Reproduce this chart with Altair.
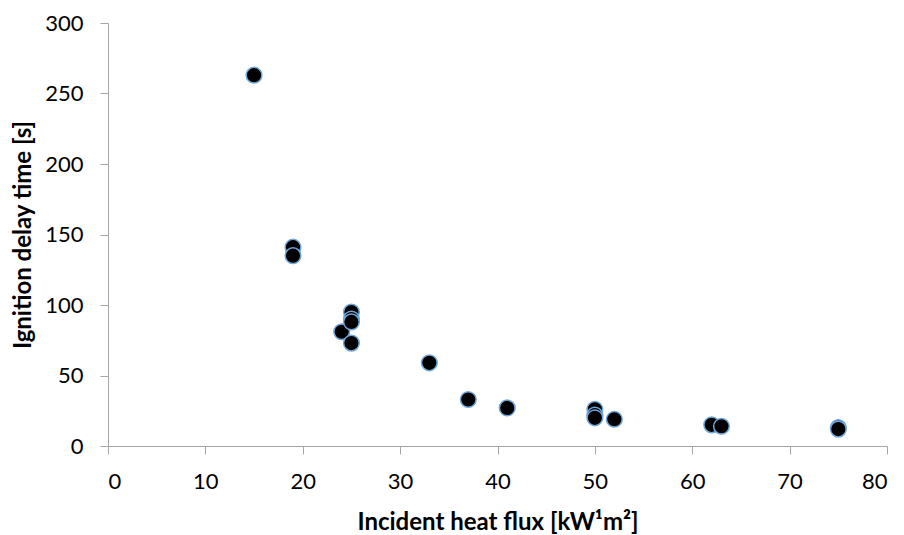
import altair as alt
import pandas as pd

heat_flux = [15, 19, 19, 24, 25, 25, 25, 25, 33, 37, 41, 50, 50, 50, 52, 62, 63, 75, 75]
delay_time = [263, 141, 135, 81, 95, 90, 88, 73, 59, 33, 27, 26, 22, 20, 19, 15, 14, 13, 12]

df = pd.DataFrame({"x": heat_flux, "y": delay_time})

font = "Lato"

chart = alt.Chart(df).mark_point(
    filled=True, fill="black", stroke="#6FA8DC", strokeWidth=1.5, size=245, opacity=1, shape="circle"
).encode(
    x=alt.X("x:Q", scale=alt.Scale(domain=[0, 80], nice=False, zero=True),
            axis=alt.Axis(title="Incident heat flux [kW¹m²]", values=list(range(0, 81, 10)),
                          grid=False, tickSize=8, domainColor="#A6A6A6", tickColor="#A6A6A6",
                          labelFontSize=22, labelFont=font, labelColor="black", labelPadding=17,
                          titleFontSize=24, titleFont=font, titleFontWeight="bold",
                          titleColor="black", titlePadding=18)),
    y=alt.Y("y:Q", scale=alt.Scale(domain=[0, 300], nice=False),
            axis=alt.Axis(title="Ignition delay time [s]", values=list(range(0, 301, 50)),
                          grid=False, tickSize=8, domainColor="#A6A6A6", tickColor="#A6A6A6",
                          labelFontSize=22, labelFont=font, labelColor="black", labelPadding=17,
                          titleFontSize=24, titleFont=font, titleFontWeight="bold",
                          titleColor="black", titlePadding=9)),
).properties(
    width=779, height=423,
    autosize=alt.AutoSizeParams(type="none"),
    padding={"left": 108, "top": 23, "right": 17, "bottom": 89},
).configure_view(stroke=None)

chart.save("out.html", embed_options={"renderer": "svg", "actions": False})
